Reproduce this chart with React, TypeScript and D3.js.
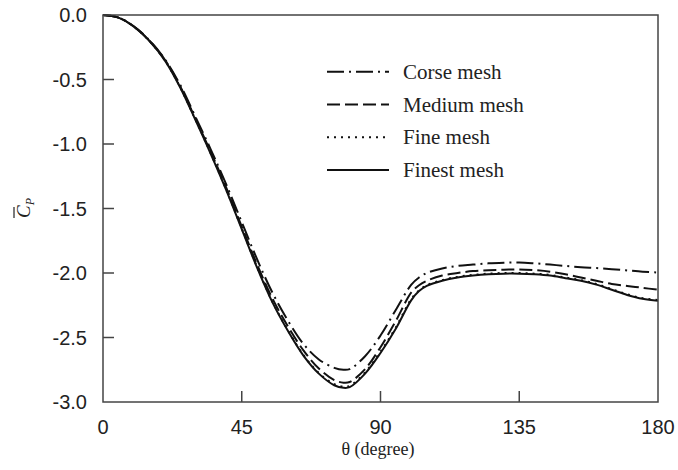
import React from "react";
import * as d3 from "d3";

const theta = [0, 5, 10, 15, 20, 25, 30, 35, 40, 45, 50, 55, 60, 65, 70, 75, 78, 80, 85, 90, 95, 100, 102.5, 105, 110, 115, 120, 125, 130, 135, 140, 145, 150, 155, 160, 165, 170, 175, 180];

const corse = [0, -0.02, -0.087, -0.195, -0.34, -0.54, -0.79, -1.045, -1.315, -1.605, -1.895, -2.155, -2.37, -2.55, -2.67, -2.735, -2.75, -2.745, -2.645, -2.485, -2.285, -2.09, -2.035, -2.0, -1.965, -1.945, -1.935, -1.925, -1.92, -1.918, -1.925, -1.935, -1.945, -1.955, -1.962, -1.97, -1.98, -1.99, -1.996];

const medium = [0, -0.02, -0.089, -0.198, -0.345, -0.553, -0.805, -1.065, -1.34, -1.64, -1.935, -2.2, -2.415, -2.6, -2.74, -2.83, -2.85, -2.845, -2.745, -2.575, -2.37, -2.15, -2.095, -2.06, -2.02, -2.0, -1.985, -1.978, -1.975, -1.972, -1.978, -1.99, -2.01, -2.035, -2.06, -2.085, -2.1, -2.115, -2.13];

const fine = [0, -0.02, -0.09, -0.2, -0.35, -0.558, -0.812, -1.076, -1.355, -1.655, -1.955, -2.225, -2.445, -2.635, -2.775, -2.862, -2.88, -2.875, -2.77, -2.61, -2.42, -2.2, -2.135, -2.095, -2.055, -2.03, -2.015, -2.005, -2.0, -2.0, -2.005, -2.015, -2.035, -2.055, -2.085, -2.125, -2.165, -2.195, -2.21];

const finest = [0, -0.02, -0.09, -0.2, -0.35, -0.56, -0.815, -1.08, -1.36, -1.66, -1.96, -2.23, -2.45, -2.64, -2.78, -2.87, -2.89, -2.885, -2.78, -2.62, -2.43, -2.21, -2.14, -2.1, -2.06, -2.035, -2.02, -2.01, -2.005, -2.005, -2.01, -2.02, -2.04, -2.06, -2.09, -2.13, -2.17, -2.2, -2.215];

const xTicks = [0, 45, 90, 135, 180];
const yTicks = [0, -0.5, -1.0, -1.5, -2.0, -2.5, -3.0];

const seriesNames = ["Corse mesh", "Medium mesh", "Fine mesh", "Finest mesh"];
const seriesData = [corse, medium, fine, finest];
const dashes = ["17,5,2,5", "13,5", "2,5", "none"];

export default function App() {
  const left = 103, right = 658, top = 15, bottom = 402;
  const x = d3.scaleLinear().domain([0, 180]).range([left, right]);
  const y = d3.scaleLinear().domain([0, -3]).range([top, bottom]);
  const line = d3
    .line<number>()
    .x((_, i) => x(theta[i]))
    .y((d) => y(d))
    .curve(d3.curveCatmullRom.alpha(0.5));

  const axisColor = "#444";
  const tickLen = 11;

  return (
    <svg width={678} height={470} style={{ position: "absolute", left: 0, top: 0, background: "#fff" }}>
      <rect x={0} y={0} width={678} height={470} fill="#fff" />
      <g fill="none" stroke="#111" strokeWidth={2}>
        {seriesData.map((s, i) => (
          <path key={i} d={line(s) || ""} strokeDasharray={dashes[i]} />
        ))}
      </g>
      <rect x={left} y={top} width={right - left} height={bottom - top} fill="none" stroke={axisColor} strokeWidth={1.5} />
      {yTicks.map((t) => (
        <g key={t}>
          {t !== 0 && t !== -3 && (
            <line x1={left} x2={left + tickLen} y1={y(t)} y2={y(t)} stroke={axisColor} strokeWidth={1.5} />
          )}
          <text
            x={87}
            y={y(t)}
            textAnchor="end"
            dominantBaseline="central"
            fontFamily="'Liberation Sans', Arial, sans-serif"
            fontSize={20}
            fill="#222"
          >
            {t.toFixed(1)}
          </text>
        </g>
      ))}
      {xTicks.map((t) => (
        <g key={t}>
          {t !== 0 && t !== 180 && (
            <line x1={x(t)} x2={x(t)} y1={bottom} y2={bottom - tickLen} stroke={axisColor} strokeWidth={1.5} />
          )}
          <text
            x={x(t)}
            y={427}
            textAnchor="middle"
            dominantBaseline="central"
            fontFamily="'Liberation Sans', Arial, sans-serif"
            fontSize={20}
            fill="#222"
          >
            {t}
          </text>
        </g>
      ))}
      <text
        x={378}
        y={449}
        textAnchor="middle"
        dominantBaseline="central"
        fontFamily="'Liberation Serif', 'Times New Roman', serif"
        fontSize={18}
        fill="#222"
      >
        θ (degree)
      </text>
      <g transform="translate(30,208) rotate(-90)">
        <text
          x={0}
          y={0}
          textAnchor="middle"
          fontFamily="'Liberation Serif', 'Times New Roman', serif"
          fontStyle="italic"
          fontSize={19}
          fill="#222"
        >
          C
          <tspan fontSize={12} dy={4}>P</tspan>
        </text>
        <line x1={-10} x2={1} y1={-16} y2={-16} stroke="#222" strokeWidth={1.2} />
      </g>
      {seriesNames.map((name, i) => {
        const ly = 71.7 + i * 32.8;
        return (
          <g key={name}>
            <line x1={327} x2={389} y1={ly} y2={ly} stroke="#111" strokeWidth={2} strokeDasharray={dashes[i]} />
            <text
              x={403}
              y={ly}
              dominantBaseline="central"
              fontFamily="'Liberation Serif', 'Times New Roman', serif"
              fontSize={21}
              fill="#222"
            >
              {name}
            </text>
          </g>
        );
      })}
    </svg>
  );
}
